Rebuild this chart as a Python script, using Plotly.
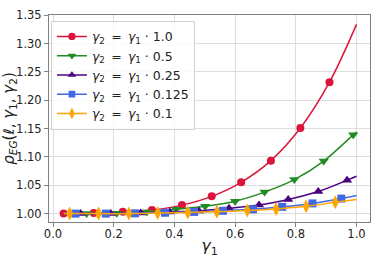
import plotly.graph_objects as go

# ---- data ----
SP = "\u2002"
factors = ["1.0", "0.5", "0.25", "0.125", "0.1"]
names = [f"<i>γ</i><sub>2</sub>{SP}={SP}<i>γ</i><sub>1</sub> · {f}" for f in factors]

# marker positions (x, y) for each series
x_r10 = [0.035, 0.134, 0.23, 0.326, 0.425, 0.523, 0.62, 0.718, 0.815, 0.911]
y_r10 = [1.000, 1.001, 1.0035, 1.0064, 1.015, 1.0305, 1.0553, 1.0935, 1.151, 1.232]

x_g05 = [0.111, 0.21, 0.309, 0.405, 0.501, 0.60, 0.697, 0.795, 0.892, 0.989]
y_g05 = [1.000, 1.0008, 1.003, 1.0078, 1.013, 1.022, 1.038, 1.060, 1.0928, 1.139]

x_p025 = [0.091, 0.19, 0.289, 0.385, 0.481, 0.58, 0.679, 0.775, 0.874, 0.969]
y_p025 = [1.000, 1.000, 1.001, 1.003, 1.0048, 1.0095, 1.015, 1.025, 1.039, 1.059]

x_b0125 = [0.074, 0.174, 0.27, 0.369, 0.465, 0.56, 0.659, 0.755, 0.855, 0.95]
y_b0125 = [1.000, 1.000, 1.0005, 1.0015, 1.003, 1.005, 1.0076, 1.012, 1.018, 1.0265]

x_o01 = [0.055, 0.15, 0.25, 0.345, 0.444, 0.54, 0.64, 0.735, 0.834, 0.93]
y_o01 = [1.000, 1.000, 1.000, 1.001, 1.002, 1.0035, 1.0055, 1.0083, 1.013, 1.020]

# curve start / end (no marker drawn there)
x_start = 0.035
y_start = 1.0
x_end = 1.0
y_end = [1.334, 1.144, 1.066, 1.032, 1.025]

colors = ["#DC143C", "#228B22", "#4B0082", "#4169E1", "#FFA500"]
symbols = ["circle", "triangle-down", "triangle-up", "square", "diamond-tall"]
msizes = [8, 9, 9, 8, 10]

series = [(x_r10, y_r10), (x_g05, y_g05), (x_p025, y_p025),
          (x_b0125, y_b0125), (x_o01, y_o01)]

fig = go.Figure()
for i, (xs, ys) in enumerate(series):
    xx = list(xs)
    yy = list(ys)
    sizes = [msizes[i]] * len(xs)
    if xx[0] > x_start + 1e-9:
        xx = [x_start] + xx
        yy = [y_start] + yy
        sizes = [0] + sizes
    xx = xx + [x_end]
    yy = yy + [y_end[i]]
    sizes = sizes + [0]
    fig.add_trace(go.Scatter(
        x=xx, y=yy, name=names[i], mode="lines+markers",
        line=dict(color=colors[i], width=1.5, shape="spline", smoothing=1.0),
        marker=dict(symbol=symbols[i], color=colors[i], size=sizes, opacity=1,
                    line=dict(width=0)),
    ))

axis_common = dict(
    showline=True, linecolor="#808080", linewidth=1, mirror=True,
    ticks="outside", ticklen=4, tickcolor="#808080", tickwidth=1,
    showgrid=True, gridcolor="#dddddd", gridwidth=1.2,
    zeroline=False, automargin=False,
    tickfont=dict(family="DejaVu Sans", size=11.5, color="#222"),
)

fig.update_xaxes(
    range=[-0.0132, 1.0445], tickvals=[0, 0.2, 0.4, 0.6, 0.8, 1.0],
    ticktext=["0.0", "0.2", "0.4", "0.6", "0.8", "1.0"],
    ticklabelstandoff=-3,
    title=dict(text="<i>γ</i><sub>1</sub>", font=dict(family="DejaVu Sans", size=16, color="#222"),
               standoff=0),
    **axis_common)
fig.update_yaxes(
    range=[0.9852, 1.3505],
    tickvals=[1.0, 1.05, 1.10, 1.15, 1.20, 1.25, 1.30, 1.35],
    ticktext=["1.00", "1.05", "1.10", "1.15", "1.20", "1.25", "1.30", "1.35"],
    title=dict(text="<i>ρ</i><sub><i>EG</i></sub>(<i>ℓ</i>, <i>γ</i><sub>1</sub>, <i>γ</i><sub>2</sub>)",
               font=dict(family="DejaVu Sans", size=15, color="#222"), standoff=2),
    **axis_common)

fig.update_layout(
    width=374, height=264,
    margin=dict(l=49, r=4, t=15, b=42),
    plot_bgcolor="white", paper_bgcolor="white",
    font=dict(family="DejaVu Sans", size=12, color="#222"),
    legend=dict(x=0.006, y=0.972, xanchor="left", yanchor="top",
                bgcolor="rgba(255,255,255,0.85)", bordercolor="#d0d0d0", borderwidth=1,
                font=dict(family="DejaVu Sans", size=12.5, color="#222"),
                itemwidth=30, tracegroupgap=0),
    showlegend=True,
)

fig.write_html("out.html", config={"displayModeBar": False},
               post_script="document.body.style.margin='0';document.body.style.overflow='hidden';")
